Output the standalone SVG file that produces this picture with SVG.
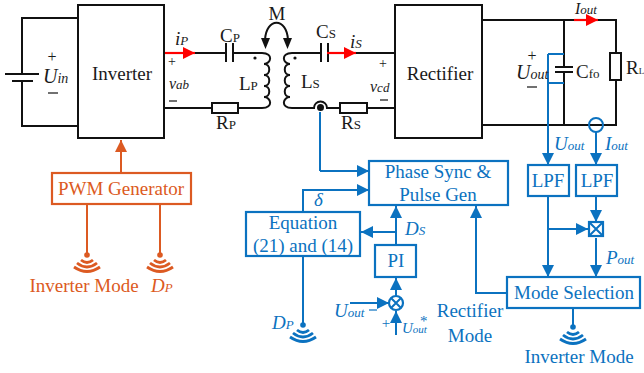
<svg xmlns="http://www.w3.org/2000/svg" width="644" height="373" viewBox="0 0 644 373">
<style>
text{font-family:"Liberation Serif","Times New Roman",serif;font-size:19px;fill:#1a1a1a}
.k{fill:none;stroke:#111;stroke-width:2}
.n{fill:none;stroke:#111;stroke-width:1.200}
.b{fill:none;stroke:#0b72c0;stroke-width:2}
.o{fill:none;stroke:#dc5a22;stroke-width:2}
.r{fill:none;stroke:#f00;stroke-width:2.200}
.bx{fill:#fff;stroke:#0b72c0;stroke-width:2.200}
.ox{fill:#fff;stroke:#dc5a22;stroke-width:2.200}
.kx{fill:#fff;stroke:#111;stroke-width:2}
.tb{fill:#0b72c0}
.to{fill:#dc5a22}
.i{font-style:italic}
.s{font-size:13px}
.m{text-anchor:middle}
.w{fill:none;stroke-width:2.800}
</style>
<defs>
<marker id="ab" markerUnits="userSpaceOnUse" markerWidth="14" markerHeight="12" refX="12" refY="6" orient="auto"><path d="M0 0L12 6L0 12z" fill="#0b72c0"/></marker>
<marker id="ao" markerUnits="userSpaceOnUse" markerWidth="14" markerHeight="12" refX="12" refY="6" orient="auto"><path d="M0 0L12 6L0 12z" fill="#dc5a22"/></marker>
<marker id="ar" markerUnits="userSpaceOnUse" markerWidth="14" markerHeight="12" refX="12" refY="6" orient="auto"><path d="M0 0L12 6L0 12z" fill="#f00"/></marker>
<g id="wb"><circle cx="0" cy="0" r="2.800" fill="#0b72c0"/><path class="w" stroke="#0b72c0" d="M-6 5Q0 10 6 5M-10 8Q0 16 10 8M-13 12Q0 21 13 12"/></g>
<g id="wo"><circle cx="0" cy="0" r="2.800" fill="#dc5a22"/><path class="w" stroke="#dc5a22" d="M-6 5Q0 10 6 5M-10 8Q0 16 10 8M-13 12Q0 21 13 12"/></g>
</defs>
<g id="connectors">
<path class="k" d="M78 18H22V74M22 81V126H78"/>
<path class="k" d="M5 74H39M12 81H33"/>
<path class="k" d="M164 53H226M233 53H262M164 108H212M238 108H262"/>
<path class="k" d="M226 43V62M233 43V62"/>
<path class="k" d="M262 53C274 53 271 64 264 64C271 64 271 75 264 75C271 75 271 86 264 86C271 86 271 97 264 97C271 97 274 108 262 108"/>
<path class="k" d="M292 53C280 53 283 64 290 64C283 64 283 75 290 75C283 75 283 86 290 86C283 86 283 97 290 97C283 97 280 108 292 108"/>
<path class="k" d="M292 53H321M328 53H395M321 43V62M328 43V62"/>
<path class="k" d="M292 108H314A6.500 6.500 0 0 1 327 108H340M367 108H395"/>
<circle cx="320.500" cy="107.500" r="3.500" fill="#111"/>
<circle cx="255" cy="58" r="1.600" fill="#111"/><circle cx="295" cy="58" r="1.600" fill="#111"/>
<path class="k" d="M265 40C266 17 287 17 288 40"/>
<path d="M261 38L270 38L265.500 49z" fill="#111"/><path d="M283 38L292 38L287.500 49z" fill="#111"/>
<path class="k" d="M482 20H616V53M616 80V125H482M564 20V67M564 72V125M555 67H573M555 72H573"/>
<path class="r" marker-end="url(#ar)" d="M164 53H195"/>
<path class="r" marker-end="url(#ar)" d="M327 53H356"/>
<path class="r" marker-end="url(#ar)" d="M574 20H598"/>
<path class="o" marker-end="url(#ao)" d="M121 172V140"/>
<path class="o" d="M87 204V255M160 204V255"/>
<path class="b" d="M320 112V171"/>
<path class="b" marker-end="url(#ab)" d="M320 171H369"/>
<path class="b" marker-end="url(#ab)" d="M303 212V190H369"/>
<path class="b" marker-end="url(#ab)" d="M396 245V206"/>
<path class="b" marker-end="url(#ab)" d="M396 232H361"/>
<path class="b" marker-end="url(#ab)" d="M396 296V278"/>
<path class="b" marker-end="url(#ab)" d="M350 303H389"/>
<path class="b" marker-end="url(#ab)" d="M396 335V311"/>
<path class="b" d="M303 256V325"/>
<path class="b" d="M564 54H548M548 83H564"/>
<path class="b" marker-end="url(#ab)" d="M548 54V165"/>
<path class="b" marker-end="url(#ab)" d="M596 132V165"/>
<circle class="b" cx="596" cy="125" r="7"/>
<path class="b" marker-end="url(#ab)" d="M548 196V277"/>
<path class="b" marker-end="url(#ab)" d="M548 229H588"/>
<path class="b" marker-end="url(#ab)" d="M596 196V222"/>
<path class="b" marker-end="url(#ab)" d="M596 238V277"/>
<path class="b" marker-end="url(#ab)" d="M507 293H476V206"/>
<path class="b" d="M573 308V326"/>
</g>
<g id="inverter"><rect class="kx" x="78" y="5" width="86" height="133"/><text x="122" y="80" class="m">Inverter</text></g>
<g id="rectifier"><rect class="kx" x="395" y="5" width="87" height="133"/><text x="440" y="80" class="m">Rectifier</text></g>
<g id="rp"><rect class="kx" x="212" y="103" width="26" height="10"/></g>
<g id="rs"><rect class="kx" x="340" y="103" width="27" height="10"/></g>
<g id="rl"><rect class="kx" x="610" y="53" width="11" height="27"/></g>
<g id="pwm"><rect class="ox" x="52" y="173" width="139" height="31"/><text x="121" y="195" class="m to">PWM Generator</text></g>
<g id="phase"><rect class="bx" x="369" y="161" width="139" height="44"/><text x="438" y="178" class="m tb">Phase Sync &amp;</text><text x="438" y="201" class="m tb">Pulse Gen</text></g>
<g id="equation"><rect class="bx" x="246" y="212" width="114" height="44"/><text x="303" y="229" class="m tb">Equation</text><text x="303" y="252" class="m tb">(21) and (14)</text></g>
<g id="pi"><rect class="bx" x="375" y="245" width="41" height="32"/><text x="396" y="267" class="m tb">PI</text></g>
<g id="lpf1"><rect class="bx" x="528" y="165" width="41" height="31"/><text x="548" y="187" class="m tb">LPF</text></g>
<g id="lpf2"><rect class="bx" x="576" y="165" width="41" height="31"/><text x="597" y="187" class="m tb">LPF</text></g>
<g id="mode"><rect class="bx" x="507" y="277" width="133" height="31"/><text x="574" y="299" class="m tb">Mode Selection</text></g>
<g id="sum"><circle cx="396" cy="303" r="7" fill="#fff" stroke="#0b72c0" stroke-width="2.200"/><path class="b" d="M391 298L401 308M401 298L391 308"/></g>
<g id="mul"><rect class="bx" x="589" y="222" width="14" height="14"/><path class="b" d="M589 222L603 236M603 222L589 236"/></g>
<g id="w1"><use href="#wo" x="87" y="255"/></g>
<g id="w2"><use href="#wo" x="160" y="255"/></g>
<g id="w3"><use href="#wb" x="303" y="325"/></g>
<g id="w4"><use href="#wb" x="573" y="327"/></g>
<g id="labels">
<text x="52" y="62" class="m" style="font-size:16px">+</text><text x="43" y="83" class="i" style="font-size:20px">U<tspan style="font-size:14px">in</tspan></text><path class="n" d="M48 93H58"/>
<text x="175" y="45" class="i">i<tspan class="s">P</tspan></text>
<text x="172" y="66" class="m" style="font-size:14px">+</text>
<text x="169" y="89" class="i" style="font-size:16px">v<tspan class="s">ab</tspan></text>
<path class="n" d="M169 101H177"/>
<text x="220" y="42">C<tspan class="s">P</tspan></text>
<text x="216" y="129">R<tspan class="s">P</tspan></text>
<text x="239" y="90">L<tspan class="s">P</tspan></text>
<text x="277" y="20" class="m">M</text>
<text x="301" y="88">L<tspan class="s">S</tspan></text>
<text x="316" y="38">C<tspan class="s">S</tspan></text>
<text x="341" y="129">R<tspan class="s">S</tspan></text>
<text x="350" y="48" class="i">i<tspan class="s">S</tspan></text>
<text x="383" y="68" class="m" style="font-size:14px">+</text>
<text x="370" y="92" class="i" style="font-size:16px">v<tspan class="s">cd</tspan></text>
<path class="n" d="M380 100H388"/>
<text x="575" y="14" class="i" style="font-size:16px">I<tspan class="s">out</tspan></text>
<text x="532" y="61" class="m" style="font-size:16px">+</text>
<text x="516" y="79" class="i" style="font-size:20px">U<tspan style="font-size:14px">out</tspan></text>
<path class="n" d="M527 87H537"/>
<text x="576" y="78">C<tspan class="s">fo</tspan></text>
<text x="626" y="74">R<tspan style="font-size:9px">L</tspan></text>
<text x="554" y="150" class="i tb">U<tspan class="s">out</tspan></text>
<text x="605" y="150" class="i tb">I<tspan class="s">out</tspan></text>
<text x="606" y="264" class="i tb">P<tspan class="s">out</tspan></text>
<text x="314" y="206" class="i tb">δ</text>
<text x="405" y="235" class="i tb">D<tspan class="s">S</tspan></text>
<text x="272" y="329" class="i tb">D<tspan class="s">P</tspan></text>
<text x="334" y="317" class="i tb">U<tspan class="s">out</tspan></text>
<path class="b" style="stroke-width:1.200" d="M369 310H377"/>
<text x="386" y="328" class="m tb" style="font-size:15px">+</text>
<text x="402" y="333" class="i tb" style="font-size:15px">U<tspan style="font-size:11px">out</tspan><tspan dx="-7" dy="-7" style="font-size:15px;font-style:normal">*</tspan></text>
<text x="470" y="317" class="m tb">Rectifier</text>
<text x="470" y="342" class="m tb">Mode</text>
<text x="579" y="363" class="m tb">Inverter Mode</text>
<text x="84" y="292" class="m to">Inverter Mode</text>
<text x="151" y="292" class="i to">D<tspan class="s">P</tspan></text>
</g>
</svg>
